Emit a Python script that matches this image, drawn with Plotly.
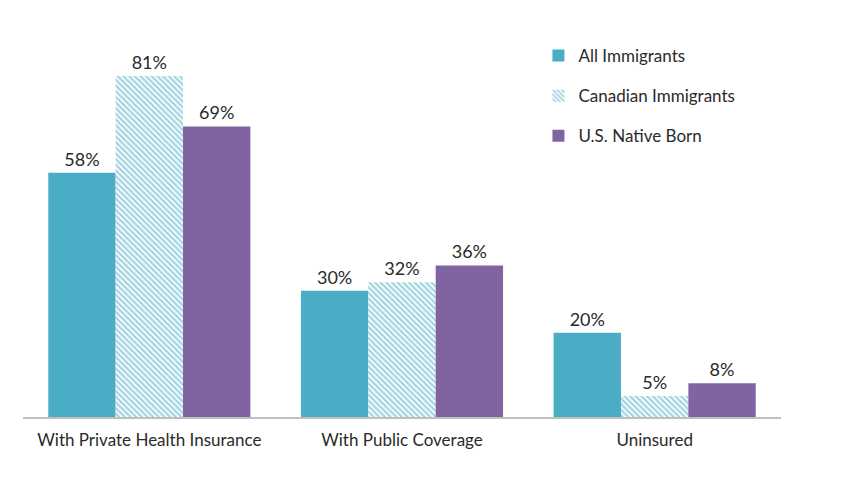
import plotly.graph_objects as go

categories = ["With Private Health Insurance", "With Public Coverage", "Uninsured"]
all_immigrants = [58, 30, 20]
canadian_immigrants = [81, 32, 5]
us_native_born = [69, 36, 8]

teal = "#4bacc6"
purple = "#8064a2"

fig = go.Figure()

fig.add_trace(go.Bar(
    x=categories, y=all_immigrants, name="All Immigrants",
    marker=dict(color=teal, line=dict(width=0)),
    legendgroup="a",
    texttemplate="%{y}%", textposition="outside",
))
fig.add_trace(go.Bar(
    x=categories, y=canadian_immigrants, name="Canadian Immigrants",
    marker=dict(
        color="white",
        line=dict(width=0),
        pattern=dict(shape="\\", fgcolor="#44a8c2", bgcolor="white", size=4, solidity=0.55, fillmode="overlay"),
    ),
    legendgroup="b",
    texttemplate="%{y}%", textposition="outside",
))
fig.add_trace(go.Bar(
    x=categories, y=us_native_born, name="U.S. Native Born",
    marker=dict(color=purple, line=dict(width=0)),
    legendgroup="c",
    texttemplate="%{y}%", textposition="outside",
))

fig.update_traces(
    textfont=dict(family="Lato", size=18, color="#2a2a2a"),
    cliponaxis=False,
)

fig.update_layout(
    width=852, height=502,
    barmode="group", bargap=0.2, bargroupgap=0,
    plot_bgcolor="white", paper_bgcolor="white",
    font=dict(family="Lato", size=17, color="#2a2a2a"),
    margin=dict(l=15, r=79, t=30, b=93),
    showlegend=True,
    legend=dict(
        x=0.68, y=1.0, xanchor="left", yanchor="top",
        font=dict(family="Lato", size=17, color="#2a2a2a"),
        tracegroupgap=15, itemwidth=30,
        bgcolor="rgba(0,0,0,0)",
    ),
)
fig.update_xaxes(
    showline=True, linecolor="#bfbfbf", linewidth=2,
    ticks="", showgrid=False, ticklabelstandoff=7,
    tickfont=dict(family="Lato", size=17, color="#2a2a2a"),
)
fig.update_yaxes(range=[0, 90], visible=False, showgrid=False)

fig.write_html("out.html")
